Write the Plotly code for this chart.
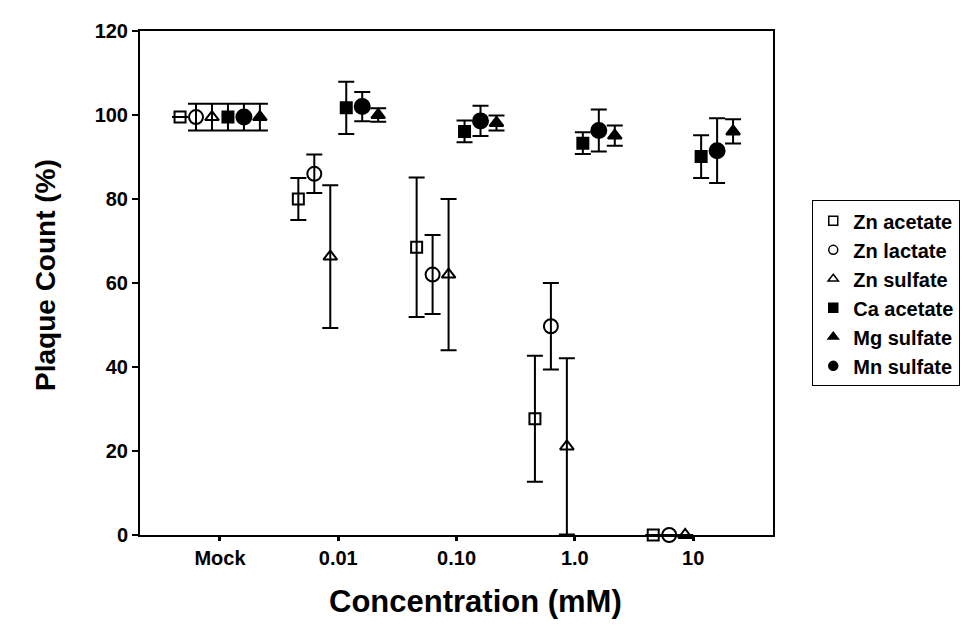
import plotly.graph_objects as go

categories = ["Mock", "0.01", "0.10", "1.0", "10"]
y_ticks = [0, 20, 40, 60, 80, 100, 120]

series_names = ["Zn acetate", "Zn lactate", "Zn sulfate", "Ca acetate", "Mg sulfate", "Mn sulfate"]

zn_acetate = [99.5, 80.0, 68.5, 27.7, 0.0]
zn_acetate_err = [0.0, 5.0, 16.6, 15.0, 0.0]
zn_lactate = [99.5, 86.0, 62.0, 49.7, 0.0]
zn_lactate_err = [3.2, 4.6, 9.4, 10.3, 0.0]
zn_sulfate = [99.5, 66.3, 62.0, 21.1, 0.0]
zn_sulfate_err = [3.2, 17.0, 18.0, 21.0, 0.0]
ca_acetate = [99.5, 101.7, 96.1, 93.3, 90.1]
ca_acetate_err = [3.2, 6.2, 2.6, 2.6, 5.1]
mg_sulfate = [99.5, 100.0, 98.1, 95.1, 96.1]
mg_sulfate_err = [3.2, 1.6, 1.8, 2.4, 2.9]
mn_sulfate = [99.5, 102.0, 98.6, 96.3, 91.5]
mn_sulfate_err = [3.2, 3.5, 3.6, 5.0, 7.7]

values = [zn_acetate, zn_lactate, zn_sulfate, ca_acetate, mg_sulfate, mn_sulfate]
errors = [zn_acetate_err, zn_lactate_err, zn_sulfate_err, ca_acetate_err, mg_sulfate_err, mn_sulfate_err]

# drawing order inside a group: Zn ac, Zn lac, Zn sulf, Ca ac, Mn sulf, Mg sulf
slots = [0, 1, 2, 3, 5, 4]
symbols = ["square-open", "circle-open", "triangle-up-open", "square", "triangle-up", "circle"]
sizes = [11, 14, 12, 11, 12, 15]
step = 0.135

FONT = "Liberation Sans, Arial, sans-serif"

fig = go.Figure()

for name, vals, errs, slot, sym, sz in zip(series_names, values, errors, slots, symbols, sizes):
    xs = [i + (slot - 2.5) * step for i in range(len(categories))]
    fig.add_trace(go.Scatter(
        x=xs, y=vals, mode="markers", name=name, showlegend=False,
        marker=dict(symbol=sym, size=sz, color="black", line=dict(color="black", width=2)),
        error_y=dict(type="data", array=errs, visible=True, color="black", thickness=2, width=8),
        cliponaxis=False,
    ))

# legend entries with the small symbols of the original key
for name, sym in zip(series_names, symbols):
    fig.add_trace(go.Scatter(
        x=[None], y=[None], mode="markers", name=name,
        marker=dict(symbol=sym, size=9, color="black", line=dict(color="black", width=1.5)),
    ))

fig.update_xaxes(
    range=[-0.676, 4.675], tickvals=list(range(len(categories))), ticktext=categories,
    showline=True, linecolor="black", linewidth=2, mirror=True,
    ticks="outside", ticklen=4, tickwidth=3, tickcolor="black",
    showgrid=False, zeroline=False,
    tickfont=dict(family=FONT, size=20, color="black", weight="bold"),
)
fig.update_yaxes(
    range=[0, 120], tickvals=y_ticks,
    showline=True, linecolor="black", linewidth=2, mirror=True,
    ticks="outside", ticklen=6, tickwidth=2, tickcolor="black",
    showgrid=False, zeroline=False,
    tickfont=dict(family=FONT, size=20, color="black", weight="bold"),
)

fig.add_annotation(
    text="Plaque Count (%)", xref="paper", yref="paper", x=0, y=0.516,
    xshift=-94, textangle=-90, showarrow=False, xanchor="center", yanchor="middle",
    font=dict(family=FONT, size=28, color="black", weight="bold"),
)
fig.add_annotation(
    text="Concentration (mM)", xref="paper", yref="paper", x=0.53, y=0,
    yshift=-66, showarrow=False, xanchor="center", yanchor="middle",
    font=dict(family=FONT, size=31, color="black", weight="bold"),
)

fig.update_layout(
    width=979, height=640,
    margin=dict(l=132, r=214, t=23, b=113),
    paper_bgcolor="white", plot_bgcolor="white",
    legend=dict(
        x=1.062, y=0.664, xanchor="left", yanchor="top",
        bordercolor="black", borderwidth=1, bgcolor="white",
        font=dict(family=FONT, size=20, color="black", weight="bold"),
        tracegroupgap=0, itemwidth=30,
    ),
)

fig.write_html("out.html")
